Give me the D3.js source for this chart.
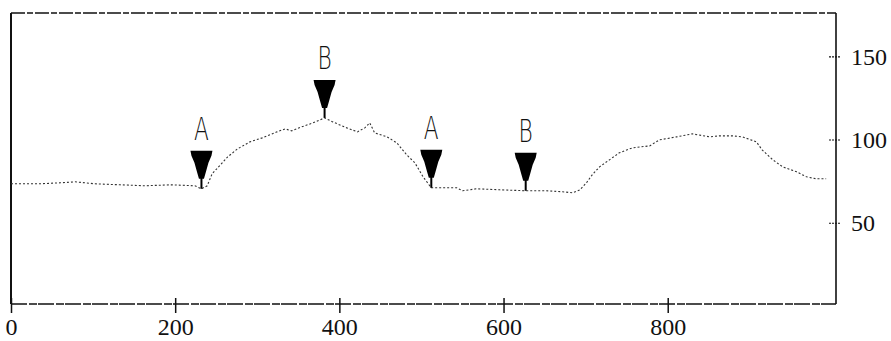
<!DOCTYPE html>
<html>
<head>
<meta charset="utf-8">
<script src="https://cdn.jsdelivr.net/npm/d3@7"></script>
<style>
  html, body { margin: 0; padding: 0; background: #fff; }
  svg { display: block; }
</style>
</head>
<body>
<svg id="chart" width="891" height="341"></svg>
<script>
// ---- data ----
const xValues = [0, 35, 60, 78, 102, 133, 163, 194, 224, 232, 239, 245, 254, 264, 276, 291, 306, 324, 334, 342, 354, 368, 382, 392, 409, 422, 431, 437, 443, 458, 470, 482, 492, 502, 512, 526, 543, 550, 567, 595, 628, 652, 672, 684, 693, 701, 708, 717, 729, 741, 757, 778, 790, 811, 830, 851, 863, 879, 891, 908, 915, 928, 940, 957, 969, 981, 993];
const yValues = [73.4, 73.4, 74, 74.6, 73.4, 72.8, 72.2, 72.8, 72.2, 70.4, 72.2, 79.4, 84.2, 89.6, 94.4, 98.6, 101, 104.6, 106.4, 105.2, 107.6, 110, 113, 110.6, 107, 104.6, 107, 110, 104, 101.6, 98, 90.8, 86, 77.6, 71, 71, 71, 69.2, 70.4, 69.8, 69.2, 69.2, 68.6, 68, 69.8, 74, 78.8, 83.6, 87.8, 92, 95, 96.2, 99.8, 101.6, 103.4, 101.6, 102.2, 102.2, 101.6, 98.6, 93.8, 87.8, 83.6, 80.6, 77.6, 76.4, 76.4];
const markerLabels = ["A", "B", "A", "B"];
const markerX = [232, 382, 512, 627];
const xTicks = [0, 200, 400, 600, 800];
const yTicks = [50, 100, 150];

// ---- layout ----
const L = 11, R = 836, T = 13, B = 304;
const serif = "'Liberation Serif', 'DejaVu Serif', 'Times New Roman', serif";
const svg = d3.select("#chart");
const x = d3.scaleLinear().domain([0, 1005]).range([L, R]);
const y = d3.scaleLinear().domain([0, 176]).range([306, 13]);

const data = xValues.map((v, i) => ({ x: v, y: yValues[i] }));

// frame
const frame = svg.append("g").attr("stroke", "#111").attr("fill", "none");
frame.append("line").attr("x1", L).attr("x2", R).attr("y1", T).attr("y2", T)
  .attr("stroke-width", 1.3).attr("stroke-dasharray", "14,2,6,2");
frame.append("line").attr("x1", L).attr("x2", R).attr("y1", B).attr("y2", B)
  .attr("stroke-width", 1.3).attr("stroke-dasharray", "16,2,8,1");
frame.append("line").attr("x1", L).attr("x2", L).attr("y1", T).attr("y2", B)
  .attr("stroke-width", 2);
frame.append("line").attr("x1", R).attr("x2", R).attr("y1", T).attr("y2", B)
  .attr("stroke-width", 1.6);

// bottom axis
const xAxis = svg.append("g").attr("transform", `translate(0,${B})`)
  .call(d3.axisBottom(x).tickValues(xTicks).tickSizeInner(9).tickSizeOuter(0).tickPadding(4));
xAxis.attr("font-family", null).attr("font-size", null);
xAxis.select(".domain").remove();
xAxis.selectAll(".tick line").attr("y1", -6).attr("y2", 9).attr("stroke", "#111").attr("stroke-width", 1.5);
xAxis.selectAll(".tick text")
  .attr("y", 31).attr("dy", 0)
  .style("font-family", serif)
  .style("font-size", "24px").attr("fill", "#111");

// right axis
const yAxis = svg.append("g").attr("transform", `translate(${R},0)`)
  .call(d3.axisRight(y).tickValues(yTicks).tickSizeInner(5).tickSizeOuter(0));
yAxis.attr("font-family", null).attr("font-size", null);
yAxis.select(".domain").remove();
yAxis.selectAll(".tick line").attr("x1", -7).attr("x2", 4).attr("stroke", "#111")
  .attr("stroke-width", 1.2).attr("stroke-dasharray", "2,1");
yAxis.selectAll(".tick text")
  .attr("x", 15).attr("dy", "0.34em")
  .style("font-family", serif)
  .style("font-size", "24px").attr("fill", "#111");

// data line
const line = d3.line().x(d => x(d.x)).y(d => y(d.y));
svg.append("path").datum(data)
  .attr("d", line)
  .attr("fill", "none")
  .attr("stroke", "#333")
  .attr("stroke-width", 1.1)
  .attr("stroke-dasharray", "2,2");

// markers
const bis = d3.bisector(d => d.x).center;
const markers = svg.append("g").selectAll("g").data(markerX).join("g")
  .attr("transform", (mx) => {
    const d = data[bis(data, mx)];
    return `translate(${x(mx)},${y(d.y) - 38})`;
  });
markers.append("path")
  .attr("d", "M-11,0 L11,0 L10,5 L7,12 L4.5,21 L2.5,28 L-2.5,28 L-4.5,21 L-7,12 L-10,5 Z")
  .attr("fill", "#000");
markers.append("line")
  .attr("x1", 0).attr("x2", 0).attr("y1", 26).attr("y2", 38)
  .attr("stroke", "#000").attr("stroke-width", 2);
markers.append("text")
  .text((d, i) => markerLabels[i])
  .attr("text-anchor", "middle")
  .attr("transform", "translate(0,-11) scale(0.68,1)")
  .style("font-family", "'DejaVu Sans', sans-serif")
  .style("font-weight", 300)
  .style("font-size", "32px")
  .attr("fill", "#111");
</script>
</body>
</html>
